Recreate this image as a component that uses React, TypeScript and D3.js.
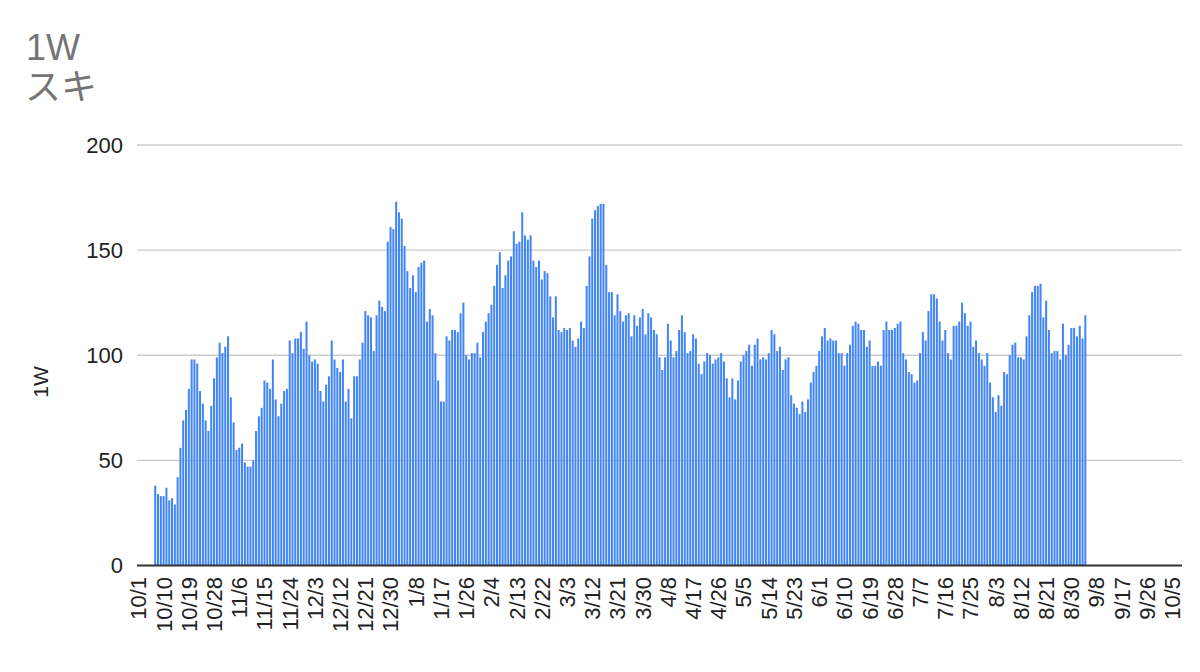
import { useEffect, useRef } from "react";
import * as d3 from "d3";

// daily counts, first bar is 10/7, last is 9/4
const FIRST_DAY = new Date(2020, 9, 7);
const VALUES: number[] = [
  38, 34, 33, 33, 37, 31, 32, 29, 42, 56, 69, 74, 84, 98, 98, 96, 83, 77, 69, 64,
  76, 89, 99, 106, 101, 104, 109, 80, 68, 55, 56, 58, 49, 47, 47, 50, 64, 71, 75, 88,
  87, 84, 98, 79, 71, 77, 83, 84, 107, 101, 108, 108, 111, 103, 116, 100, 97, 98, 96, 83,
  78, 86, 90, 107, 98, 94, 92, 98, 78, 84, 70, 90, 90, 98, 106, 121, 119, 118, 102, 119,
  126, 123, 121, 154, 161, 160, 173, 168, 165, 152, 140, 132, 138, 130, 142, 144, 145, 116, 122, 119,
  101, 88, 78, 78, 109, 107, 112, 112, 111, 120, 125, 100, 98, 101, 101, 106, 99, 111, 116, 120,
  124, 133, 143, 149, 132, 138, 145, 147, 159, 153, 154, 168, 157, 155, 157, 145, 142, 145, 136, 140,
  139, 128, 118, 128, 112, 111, 113, 112, 113, 107, 104, 108, 116, 113, 133, 147, 165, 169, 171, 172,
  172, 143, 130, 130, 119, 129, 121, 116, 119, 120, 109, 119, 114, 118, 122, 110, 120, 118, 112, 110,
  99, 93, 99, 115, 107, 99, 102, 112, 119, 111, 101, 102, 110, 108, 96, 91, 97, 101, 100, 96,
  98, 99, 101, 97, 89, 80, 89, 79, 88, 97, 100, 102, 105, 95, 105, 108, 98, 99, 98, 101,
  112, 110, 102, 104, 93, 98, 99, 81, 77, 75, 72, 78, 73, 79, 87, 92, 95, 102, 109, 113,
  107, 108, 107, 107, 101, 101, 95, 101, 105, 114, 116, 115, 112, 112, 104, 107, 95, 95, 97, 95,
  112, 116, 112, 112, 113, 115, 116, 101, 98, 92, 91, 87, 88, 101, 111, 107, 121, 129, 129, 127,
  116, 107, 112, 101, 98, 114, 114, 116, 125, 120, 114, 116, 104, 107, 101, 98, 95, 101, 87, 80,
  73, 81, 76, 92, 91, 100, 105, 106, 99, 99, 98, 109, 119, 130, 133, 133, 134, 118, 126, 112,
  101, 102, 102, 98, 115, 100, 105, 113, 113, 109, 114, 108, 119,
];

// the axis runs a little past the data
const AXIS_START = new Date(2020, 9, 1);
const AXIS_END = new Date(2021, 9, 9);
const TICK_LABELS = [
  "10/1", "10/10", "10/19", "10/28", "11/6", "11/15", "11/24", "12/3", "12/12", "12/21",
  "12/30", "1/8", "1/17", "1/26", "2/4", "2/13", "2/22", "3/3", "3/12", "3/21",
  "3/30", "4/8", "4/17", "4/26", "5/5", "5/14", "5/23", "6/1", "6/10", "6/19",
  "6/28", "7/7", "7/16", "7/25", "8/3", "8/12", "8/21", "8/30", "9/8", "9/17",
  "9/26", "10/5",
];
const Y_TICKS = [0, 50, 100, 150, 200];

const FONT = "'Liberation Sans', Arial, sans-serif";
const keyFmt = d3.timeFormat("%Y-%m-%d");
const labelFmt = d3.timeFormat("%-m/%-d");

export default function App() {
  const svgRef = useRef<SVGSVGElement>(null);

  useEffect(() => {
    if (!svgRef.current) return;
    const width = 1200;
    const height = 672;
    const left = 137;
    const right = 1182;
    const top = 145;
    const bottom = 565.5;

    const days = d3.timeDay.range(AXIS_START, AXIS_END);
    const keys = days.map(keyFmt);
    const data = VALUES.map((v, i) => ({ key: keyFmt(d3.timeDay.offset(FIRST_DAY, i)), value: v }));

    // match each tick label to its day, walking forward through the axis
    let from = 0;
    const ticks = TICK_LABELS.map((label) => {
      let i = from;
      while (i < days.length && labelFmt(days[i]) !== label) i++;
      from = i + 1;
      return { label, key: keys[Math.min(i, keys.length - 1)] };
    });

    const x = d3.scaleBand<string>().domain(keys).range([left, right]).paddingInner(0.28).paddingOuter(0.14);
    const y = d3.scaleLinear().domain([0, 200]).range([bottom, top]);

    const svg = d3.select(svgRef.current);
    svg.selectAll("*").remove();
    svg.attr("width", width).attr("height", height);

    svg.append("rect").attr("width", width).attr("height", height).attr("fill", "#fff");

    // title
    svg
      .append("text")
      .attr("x", 26)
      .attr("y", 60)
      .attr("fill", "#757575")
      .attr("font-size", "36px")
      .attr("font-family", FONT)
      .text("1W");
    svg
      .append("text")
      .attr("x", 25)
      .attr("y", 100)
      .attr("fill", "#757575")
      .attr("font-size", "36px")
      .attr("font-family", "'Noto Sans CJK JP', sans-serif")
      .text("スキ");

    // gridlines
    svg
      .append("g")
      .selectAll("line")
      .data(Y_TICKS.filter((t) => t > 0))
      .enter()
      .append("line")
      .attr("x1", left)
      .attr("x2", right)
      .attr("y1", (d) => y(d))
      .attr("y2", (d) => y(d))
      .attr("stroke", "#cccccc")
      .attr("stroke-width", 1.3);

    // y labels
    svg
      .append("g")
      .selectAll("text")
      .data(Y_TICKS)
      .enter()
      .append("text")
      .attr("x", 123)
      .attr("y", (d) => y(d))
      .attr("dy", "0.36em")
      .attr("text-anchor", "end")
      .attr("font-family", FONT)
      .attr("font-size", "22px")
      .attr("fill", "#222")
      .text((d) => d);

    // bars
    svg
      .append("g")
      .selectAll("rect")
      .data(data)
      .enter()
      .append("rect")
      .attr("x", (d) => x(d.key) ?? 0)
      .attr("width", x.bandwidth())
      .attr("y", (d) => y(d.value))
      .attr("height", (d) => y(0) - y(d.value))
      .attr("fill", "#4285F4");

    // baseline
    svg
      .append("line")
      .attr("x1", left)
      .attr("x2", right)
      .attr("y1", y(0))
      .attr("y2", y(0))
      .attr("stroke", "#333")
      .attr("stroke-width", 2);

    // x labels
    svg
      .append("g")
      .selectAll("text")
      .data(ticks)
      .enter()
      .append("text")
      .attr("transform", (d) => {
        const cx = (x(d.key) ?? 0) + x.bandwidth() / 2;
        return `translate(${cx},577) rotate(-90)`;
      })
      .attr("dy", "0.36em")
      .attr("text-anchor", "end")
      .attr("font-family", FONT)
      .attr("font-size", "22px")
      .attr("fill", "#222")
      .text((d) => d.label);

    // y axis title
    svg
      .append("text")
      .attr("transform", "translate(40,382) rotate(-90)")
      .attr("dy", "0.36em")
      .attr("text-anchor", "middle")
      .attr("font-family", FONT)
      .attr("font-size", "21px")
      .attr("fill", "#222")
      .text("1W");
  }, []);

  return (
    <div style={{ position: "absolute", left: 0, top: 0 }}>
      <svg ref={svgRef} style={{ display: "block" }} />
    </div>
  );
}
